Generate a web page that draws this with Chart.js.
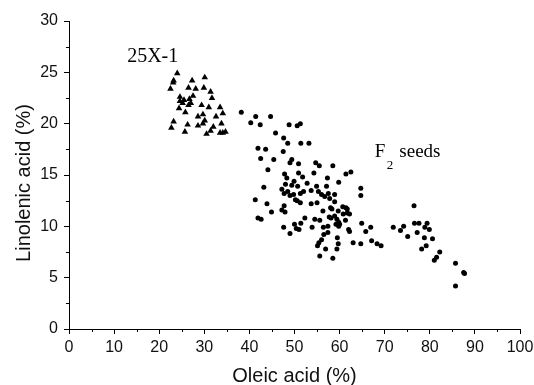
<!DOCTYPE html>
<html>
<head>
<meta charset="utf-8">
<script src="https://cdn.jsdelivr.net/npm/chart.js@4.4.0/dist/chart.umd.min.js"></script>
<style>
  html, body { margin: 0; padding: 0; background: #fff; }
  #wrap { width: 534px; height: 385px; position: relative; }
</style>
</head>
<body>
<div id="wrap"><canvas id="myChart"></canvas></div>
<script>
// 25X-1 parent seeds (triangles): oleic %, linolenic %
const parentOleic = [22.5, 23.1, 23.2, 24.0, 24.6, 24.4, 24.6, 23.2, 22.7, 25.5, 25.8, 25.7, 26.3, 26.5, 26.5,
  26.7, 27.0, 27.3, 27.5, 28.1, 28.6, 28.6, 29.4, 29.7, 29.9, 30.1, 29.7, 30.1, 30.5, 31.0, 31.4, 31.4, 31.7,
  32.0, 32.6, 33.5, 33.8, 33.5, 34.1, 34.1, 34.7, 25.2];
const parentLinolenic = [23.4, 24.0, 24.2, 24.9, 22.6, 21.5, 22.2, 20.2, 19.6, 22.3, 21.1, 19.2, 19.9, 21.8, 23.5,
  22.4, 22.0, 24.2, 22.7, 23.4, 20.7, 19.8, 21.8, 20.9, 23.5, 24.5, 20.0, 20.3, 19.0, 21.6, 19.3, 23.1, 22.5,
  19.7, 20.7, 21.6, 20.0, 19.1, 21.0, 19.1, 19.2, 22.0];

// F2 seeds (dots)
const f2Oleic = [38.2, 41.4, 40.3, 42.4, 44.7, 45.8, 48.8, 50.6, 51.3, 47.6, 48.5, 51.4, 53.2, 41.9, 43.6,
  42.5, 47.5, 45.4, 44.1, 49.4, 49.0, 50.9, 54.7, 55.5, 58.5, 47.8, 50.9, 51.8, 54.3, 61.4, 62.5, 48.3, 49.9,
  52.8, 57.3, 59.8, 43.2, 47.2, 48.0, 49.4, 50.7, 52.0, 53.7, 54.9, 57.1, 55.3, 56.0, 56.7, 57.5, 58.9, 64.7,
  64.7, 47.7, 48.5, 49.0, 49.8, 51.3, 41.3, 50.2, 50.6, 51.3, 53.7, 55.0, 56.3, 57.8, 58.9, 43.9, 47.7, 47.2,
  47.9, 44.9, 41.9, 42.6, 58.0, 58.3, 59.7, 60.7, 61.4, 61.7, 60.8, 61.7, 62.2, 61.3, 57.7, 58.1, 58.9, 59.4,
  59.8, 59.2, 59.8, 60.0, 62.0, 62.2, 59.5, 55.6, 54.5, 52.3, 51.4, 50.0, 50.4, 51.0, 47.6, 49.0, 53.9, 56.4,
  57.4, 56.5, 57.4, 56.0, 55.4, 55.1, 56.9, 59.4, 59.7, 55.6, 58.5, 63.0, 64.7, 64.9, 65.8, 66.9, 67.1, 68.3,
  69.2, 71.9, 73.5, 74.2, 75.1, 76.5, 76.6, 77.6, 77.2, 78.2, 78.9, 79.4, 79.9, 78.8, 79.2, 80.6, 81.0, 81.5,
  82.2, 85.7, 85.7, 87.5, 87.7];
const f2Linolenic = [21.1, 20.7, 20.1, 19.9, 20.7, 19.1, 19.9, 19.8, 20.0, 18.6, 18.1, 18.1, 18.1, 17.6, 17.5,
  16.6, 17.3, 16.5, 15.5, 16.5, 16.2, 16.1, 16.2, 15.9, 15.9, 15.1, 15.2, 14.8, 15.2, 15.1, 15.3, 14.7, 14.4,
  14.2, 14.7, 14.3, 13.8, 13.6, 14.1, 14.0, 13.9, 13.4, 13.5, 13.9, 13.9, 13.4, 13.1, 12.9, 13.2, 13.1, 13.7,
  13.0, 13.2, 13.4, 13.0, 13.1, 13.2, 12.6, 12.6, 12.5, 12.3, 12.2, 12.3, 11.5, 12.7, 12.4, 12.2, 12.0, 11.6,
  11.4, 11.4, 10.8, 10.7, 11.8, 11.7, 11.5, 11.9, 11.8, 11.7, 11.2, 11.3, 11.2, 10.6, 10.9, 10.8, 11.0, 10.7,
  10.4, 10.2, 10.0, 10.2, 9.7, 9.5, 8.9, 10.6, 10.7, 10.8, 10.3, 10.2, 9.8, 9.7, 9.9, 9.3, 9.9, 9.9,
  10.0, 9.2, 9.4, 8.7, 8.4, 8.1, 7.8, 7.8, 8.3, 7.1, 6.9, 8.4, 8.3, 10.3, 9.5, 9.9, 8.6, 8.3,
  8.1, 9.9, 9.6, 10.0, 9.0, 12.0, 10.3, 10.3, 9.4, 7.8, 9.9, 10.3, 9.7, 8.9, 8.1, 8.8, 6.7, 7.0,
  7.5, 6.4, 4.2, 5.5, 5.4];

// labels written on the plot, at data positions
const labelParent = { text: '25X-1', x: 12.9, y: 26.0 };
const labelF2 = { x: 67.8, y: 16.8 };
const yTitle = 'Linolenic acid (%)';

const toPoints = (xs, ys) => xs.map((x, i) => ({ x: x, y: ys[i] }));

// minor ticks, y title and in-plot labels
const extras = {
  id: 'extras',
  afterDraw(chart) {
    const ctx = chart.ctx;
    const xs = chart.scales.x, ys = chart.scales.y;
    ctx.save();
    ctx.strokeStyle = '#000';
    ctx.lineWidth = 1;
    ctx.beginPath();
    for (let v = 5; v < 100; v += 10) {
      const px = Math.round(xs.getPixelForValue(v)) + 0.5;
      ctx.moveTo(px, xs.top);
      ctx.lineTo(px, xs.top + 3);
    }
    for (let v = 2.5; v < 30; v += 5) {
      const py = Math.round(ys.getPixelForValue(v)) + 0.5;
      ctx.moveTo(ys.right, py);
      ctx.lineTo(ys.right - 3, py);
    }
    ctx.stroke();

    ctx.fillStyle = '#111';
    // y axis title, sits a little below the middle of the axis in the original
    ctx.save();
    ctx.translate(24, (ys.top + ys.bottom) / 2 + 8);
    ctx.rotate(-Math.PI / 2);
    ctx.textAlign = 'center';
    ctx.textBaseline = 'middle';
    ctx.font = '20px "Liberation Sans", Arial, sans-serif';
    ctx.fillText(yTitle, 0, 0);
    ctx.restore();

    ctx.fillStyle = '#000';
    ctx.textBaseline = 'alphabetic';
    ctx.textAlign = 'left';
    ctx.font = '20px "Liberation Serif"';
    ctx.fillText(labelParent.text, xs.getPixelForValue(labelParent.x), ys.getPixelForValue(labelParent.y));

    let fx = xs.getPixelForValue(labelF2.x), fy = ys.getPixelForValue(labelF2.y);
    ctx.font = '19px "Liberation Serif"';
    ctx.fillText('F', fx, fy);
    fx += ctx.measureText('F').width + 1.5;
    ctx.font = '13px "Liberation Serif"';
    ctx.fillText('2', fx, fy + 12);
    fx += ctx.measureText('2').width + 6;
    ctx.font = '19px "Liberation Serif"';
    ctx.fillText('seeds', fx, fy);
    ctx.restore();
  }
};

const tickFont = { family: '"Liberation Sans", Arial, sans-serif', size: 16 };
const titleFont = { family: '"Liberation Sans", Arial, sans-serif', size: 20, lineHeight: 0.9 };

new Chart(document.getElementById('myChart'), {
  type: 'scatter',
  data: {
    datasets: [
      {
        label: '25X-1',
        data: toPoints(parentOleic, parentLinolenic),
        pointStyle: 'triangle',
        pointRadius: 3.8,
        borderWidth: 0,
        backgroundColor: '#000'
      },
      {
        label: 'F2 seeds',
        data: toPoints(f2Oleic, f2Linolenic),
        pointStyle: 'circle',
        pointRadius: 2.5,
        borderWidth: 0,
        backgroundColor: '#000'
      }
    ]
  },
  options: {
    responsive: true,
    maintainAspectRatio: false,
    devicePixelRatio: 1,
    animation: false,
    layout: { padding: { top: 21, right: 14, left: 0, bottom: 0 } },
    plugins: { legend: { display: false }, tooltip: { enabled: false } },
    scales: {
      x: {
        min: 0, max: 100,
        ticks: { stepSize: 10, color: '#111', font: tickFont, padding: 4, maxRotation: 0 },
        grid: { drawOnChartArea: false, tickLength: 5, color: '#000', tickColor: '#000' },
        border: { display: true, color: '#000', width: 1 },
        title: { display: true, text: 'Oleic acid (%)', color: '#111', font: titleFont, padding: 0 },
        afterFit(scale) {
          scale.height = 56;
          scale.paddingLeft = 0;
          scale.paddingRight = 0;
        }
      },
      y: {
        min: 0, max: 30,
        ticks: { stepSize: 5, color: '#111', font: tickFont, padding: 6 },
        grid: { drawOnChartArea: false, tickLength: 5, color: '#000', tickColor: '#000' },
        border: { display: true, color: '#000', width: 1 },
        title: { display: false },
        afterFit(scale) {
          scale.width = 69;
          scale.paddingTop = 0;
          scale.paddingBottom = 0;
        }
      }
    }
  },
  plugins: [extras]
});
</script>
</body>
</html>
